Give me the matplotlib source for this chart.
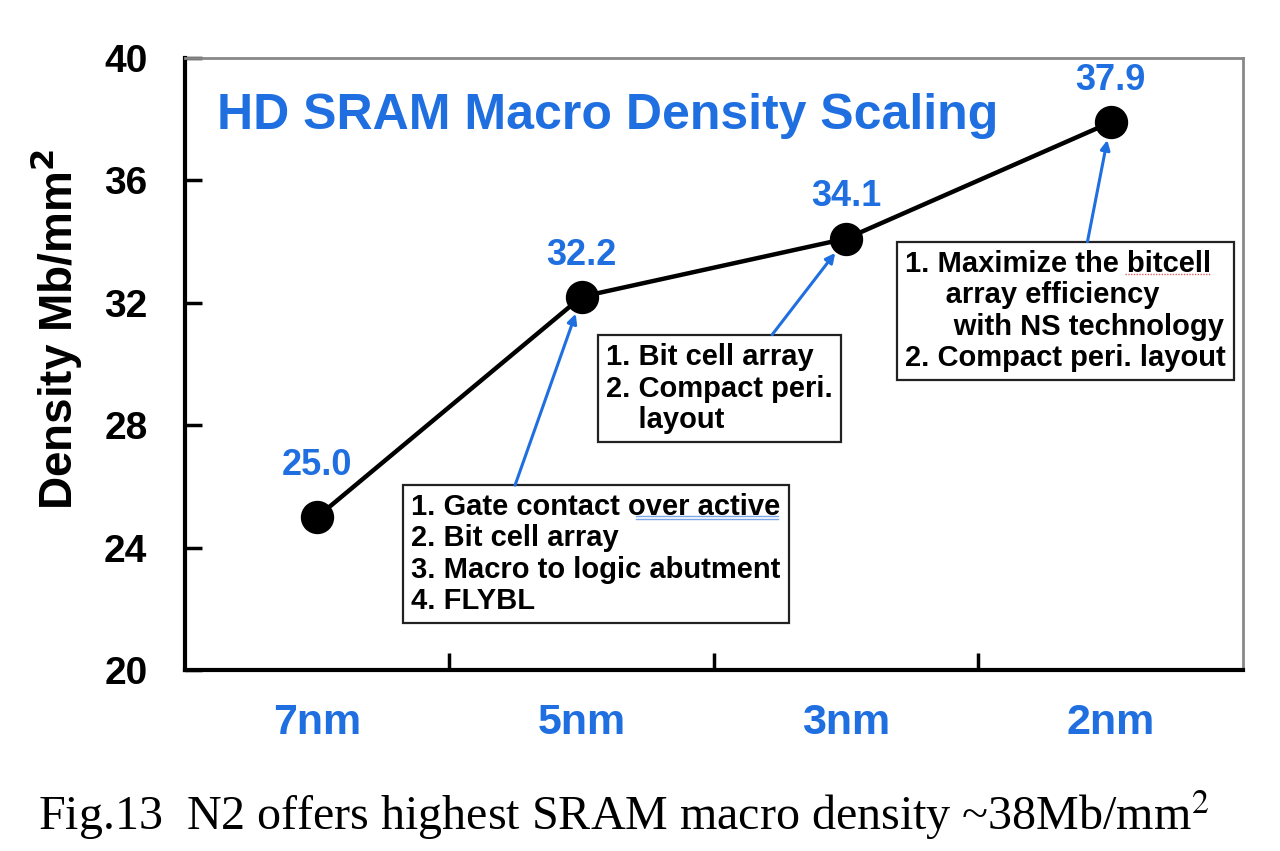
import numpy as np
import matplotlib.pyplot as plt

plt.rcParams['font.family'] = ['Liberation Sans', 'DejaVu Sans']

nodes = ['7nm', '5nm', '3nm', '2nm']
density = [25.0, 32.2, 34.1, 37.9]
yticks = [20, 24, 28, 32, 36, 40]

notes = [
    "1. Gate contact over active\n2. Bit cell array\n3. Macro to logic abutment\n4. FLYBL",
    "1. Bit cell array\n2. Compact peri.\n    layout",
    "1. Maximize the bitcell\n     array efficiency\n      with NS technology\n2. Compact peri. layout",
]
note_target = [1, 2, 3]           # index of the point each note points to
note_pos = [(0.2136, 0.289), (0.398, 0.534), (0.6805, 0.686)]   # axes fraction, text top-left
arrow_start = [(0.312, 0.302), (0.555, 0.548), (0.853, 0.700)]

blue = '#1f6fe0'

fig = plt.figure(figsize=(12.8, 8.51), dpi=100)
ax = fig.add_axes([0.1445, 0.2127, 0.8266, 0.7191])

x = np.arange(len(nodes))
ax.plot(x, density, color='black', lw=3.2, marker='o', markersize=23,
        markerfacecolor='black', zorder=3)

for i, v in enumerate(density):
    off = 37 if i == 0 else 30
    ax.annotate(f"{v:.1f}", (x[i], v), xytext=(0, off), textcoords='offset points',
                ha='center', va='center', color=blue, fontsize=26, fontweight='bold')

for txt, (tx, ty), tgt, (sx, sy) in zip(notes, note_pos, note_target, arrow_start):
    ax.text(tx, ty, txt, transform=ax.transAxes, ha='left', va='top',
            fontsize=21, fontweight='bold', linespacing=1.15, zorder=4,
            bbox=dict(boxstyle='square,pad=0.28', fc='white', ec='#222222', lw=1.6))
    ax.annotate('', xy=(x[tgt], density[tgt]), xycoords='data',
                xytext=(sx, sy), textcoords='axes fraction',
                arrowprops=dict(arrowstyle='-|>', color=blue, lw=2.2,
                                mutation_scale=14, shrinkA=0, shrinkB=13), zorder=5)

# spell-check underlines seen in the screenshot
ax.plot([0.4263, 0.5605], [0.2516, 0.2516], transform=ax.transAxes, color='#7aa6e8', lw=1, zorder=6)
ax.plot([0.4263, 0.5605], [0.2467, 0.2467], transform=ax.transAxes, color='#7aa6e8', lw=1, zorder=6)
ax.plot([0.8880, 0.9688], [0.6470, 0.6470], transform=ax.transAxes, color='#e06060', lw=1,
        ls=(0, (1, 1)), zorder=6)

ax.text(0.03, 0.905, "HD SRAM Macro Density Scaling", transform=ax.transAxes,
        color=blue, fontsize=36, fontweight='bold', ha='left', va='center')

ax.set_xlim(-0.5, 3.5)
ax.set_ylim(20, 40)
ax.set_yticks(yticks)
ax.set_yticklabels([str(t) for t in yticks], fontsize=28, fontweight='bold')
ax.set_xticks(x)
ax.set_xticklabels(nodes, fontsize=31, fontweight='bold', color=blue)
ax.set_xticks([0.5, 1.5, 2.5], minor=True)
ax.tick_params(axis='x', which='major', length=0, pad=24)
ax.tick_params(axis='x', which='minor', direction='in', length=12, width=2.5)
ax.tick_params(axis='y', direction='in', length=12, width=2.5, pad=27)

for s in ['left', 'bottom']:
    ax.spines[s].set_linewidth(3)
    ax.spines[s].set_color('black')
for s in ['top', 'right']:
    ax.spines[s].set_linewidth(2)
    ax.spines[s].set_color('#888888')

ax.set_ylabel("Density Mb/mm$^\\mathbf{2}$", fontsize=33, fontweight='bold')
ax.yaxis.set_label_coords(-0.095, 0.556)

fig.text(0.03, 0.042, "Fig.13  N2 offers highest SRAM macro density ~38Mb/mm$^2$",
         family='Liberation Serif', fontsize=34.6, ha='left', va='center',
         math_fontfamily='stix')

fig.savefig('out.png', dpi=100, facecolor='white')
